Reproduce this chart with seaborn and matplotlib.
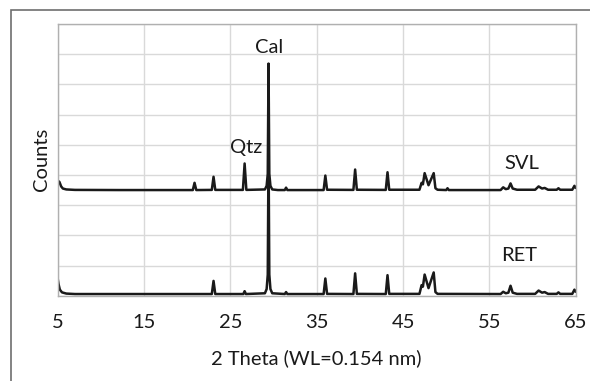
import pandas as pd
import matplotlib
matplotlib.use("Agg")
import matplotlib.pyplot as plt
from matplotlib.patches import Rectangle
import seaborn as sns

# XRD traces (2 theta in degrees, counts in arbitrary units)
svl_two_theta = [5.0, 5.2, 5.4, 5.6, 6.0, 7.0, 12.0, 20.65, 20.85, 21.05,
                 22.85, 23.05, 23.25, 26.45, 26.65, 26.85, 29.0, 29.2, 29.33,
                 29.42, 29.51, 29.64, 29.85, 30.5, 31.3, 31.45, 31.6, 35.8,
                 36.0, 36.2, 39.25, 39.45, 39.65, 43.0, 43.2, 43.4, 46.9,
                 47.15, 47.3, 47.5, 47.95, 48.55, 48.75, 49.0, 50.0, 50.15,
                 50.3, 56.3, 56.6, 56.9, 57.2, 57.45, 57.7, 58.2, 60.3, 60.7,
                 61.1, 61.4, 61.8, 62.8, 63.0, 63.2, 64.6, 64.85, 65.0]
svl_counts = [370, 330, 180, 110, 80, 65, 60, 60, 300, 60,
              65, 500, 65, 65, 940, 65, 80, 200, 600,
              4250, 600, 200, 80, 60, 60, 140, 60, 60,
              540, 70, 65, 740, 70, 65, 650, 70, 70,
              300, 250, 620, 220, 620, 120, 70, 60, 120,
              60, 60, 150, 90, 110, 280, 110, 70, 70, 180,
              110, 130, 70, 70, 120, 70, 70, 200, 130]

ret_two_theta = [5.0, 5.1, 5.25, 5.5, 6.0, 7.0, 22.85, 23.05, 23.25, 26.5,
                 26.65, 26.8, 29.0, 29.2, 29.33, 29.42, 29.51, 29.64, 29.85,
                 31.3, 31.45, 31.6, 35.8, 36.0, 36.2, 39.25, 39.45, 39.65,
                 43.0, 43.2, 43.4, 46.9, 47.15, 47.3, 47.5, 47.95, 48.55,
                 48.75, 49.0, 56.3, 56.6, 56.9, 57.2, 57.45, 57.7, 58.2, 60.3,
                 60.7, 61.1, 61.4, 61.8, 62.8, 63.0, 63.2, 64.6, 64.85, 65.0]
ret_counts = [560, 380, 200, 110, 70, 55, 55, 490, 55, 55,
              150, 55, 80, 220, 700, 4900, 700, 220, 80,
              55, 120, 55, 55, 570, 60, 55, 740, 60,
              55, 680, 60, 60, 350, 300, 700, 250, 770,
              120, 60, 55, 130, 80, 100, 330, 100, 60, 60,
              170, 100, 120, 60, 60, 110, 60, 60, 200, 130]

svl_offset = 3440

labels = ["Cal", "Qtz", "SVL", "RET"]
label_x = [29.5, 26.8, 58.8, 58.4]
label_y = [8220, 4900, 4390, 1340]

df = pd.concat([
    pd.DataFrame({"two_theta": svl_two_theta,
                  "counts": [c + svl_offset for c in svl_counts],
                  "sample": "SVL"}),
    pd.DataFrame({"two_theta": ret_two_theta,
                  "counts": ret_counts,
                  "sample": "RET"}),
])

sns.set_theme(style="whitegrid")
plt.rcParams["font.family"] = ["Lato", "DejaVu Sans"]

fig = plt.figure(figsize=(5.9, 3.81), dpi=100)
ax = fig.add_axes([0.0978, 0.2239, 0.878, 0.713])

sns.lineplot(
    data=df,
    x="two_theta",
    y="counts",
    hue="sample",
    palette={"SVL": "#1a1a1a", "RET": "#1a1a1a"},
    estimator=None,
    sort=False,
    linewidth=1.8,
    legend=False,
    ax=ax
)

ax.set_xlim(5, 65)
ax.set_ylim(0, 9000)
ax.set_xticks(range(5, 66, 10))
ax.set_yticks(range(0, 9001, 1000))
ax.set_yticklabels([])
ax.tick_params(axis="both", length=0, labelsize=14.5, colors="#1a1a1a")
ax.tick_params(axis="x", pad=13)
ax.grid(True, color="#d9d9d9", linewidth=1)
for side in ["left", "right", "top", "bottom"]:
    ax.spines[side].set_color("#b0b0b0")
    ax.spines[side].set_linewidth(1)

ax.set_xlabel("2 Theta (WL=0.154 nm)", fontsize=14.5, color="#1a1a1a",
              labelpad=13)
ax.set_ylabel("Counts", fontsize=14.5, color="#1a1a1a", labelpad=2)

for text, x, y in zip(labels, label_x, label_y):
    ax.text(x, y, text, ha="center", va="center", fontsize=14.5,
            color="#1a1a1a", clip_on=False)

# outer frame of the chart area (only top and left edges show)
fig.add_artist(Rectangle((0.0186, -0.1), 1.2, 1.0745,
                         transform=fig.transFigure, fill=False,
                         edgecolor="#6e6e6e", linewidth=1.2))

fig.savefig("out.png", dpi=100)
plt.close(fig)
